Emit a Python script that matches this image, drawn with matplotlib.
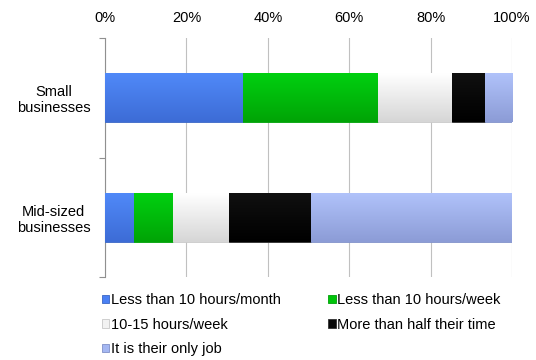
import numpy as np
import matplotlib.pyplot as plt
from matplotlib.patches import Patch
from matplotlib.colors import to_rgb

plt.rcParams['font.family'] = ['Liberation Sans', 'DejaVu Sans']

categories = ['Small\nbusinesses', 'Mid-sized\nbusinesses']
series = ['Less than 10 hours/month', 'Less than 10 hours/week',
          '10-15 hours/week', 'More than half their time', 'It is their only job']
small = [34, 33, 18.3, 8, 6.7]
mid = [7.1, 9.7, 13.7, 20.2, 49.3]
colors = ['#4a80f4', '#00c40a', '#f2f2f2', '#080808', '#a4b7f2']
tops = ['#5089f8', '#00d010', '#ffffff', '#101010', '#b0c2fa']
bottoms = ['#3d6cd6', '#00a406', '#d6d6d6', '#000000', '#8c9cd6']
edges = ['#3a66c4', '#00a008', '#c8c8c8', '#303030', '#8090c8']

values = np.array([small, mid])

fig = plt.figure(figsize=(5.36, 3.6), dpi=100)
ax = fig.add_axes([105/536, 1-277/360, 407/536, 239/360])

y = np.arange(len(categories))
left = np.zeros(len(categories))
for i, name in enumerate(series):
    bars = ax.barh(y, values[:, i], left=left, height=0.41, color=colors[i],
                   edgecolor=edges[i], linewidth=0.6, label=name, zorder=3)
    # vertical gradient like the original Excel fill
    grad = np.linspace(0, 1, 64)[:, None, None]
    img = (1 - grad) * np.array(to_rgb(tops[i])) + grad * np.array(to_rgb(bottoms[i]))
    for p in bars.patches:
        x0, y0, w, h = p.get_x(), p.get_y(), p.get_width(), p.get_height()
        im = ax.imshow(img, extent=(x0, x0 + w, y0 + h, y0), aspect='auto',
                       zorder=3.5, interpolation='bilinear')
        im.set_clip_path(p)
    left += values[:, i]

ax.set_xlim(0, 100)
ax.set_ylim(1.5, -0.5)
ax.set_aspect('auto')
ax.xaxis.tick_top()
ax.set_xticks(np.arange(0, 101, 20))
ax.set_xticklabels([f'{v}%' for v in range(0, 101, 20)], fontsize=10.5)
ax.tick_params(axis='x', length=0, pad=9)
ax.grid(axis='x', color='#c0c0c0', linewidth=0.8, zorder=0)

ax.set_yticks([-0.5, 0.5, 1.5])
ax.set_yticklabels([])
ax.set_yticks(y, minor=True)
ax.set_yticklabels(categories, minor=True, fontsize=10.5, ha='center', multialignment='center')
ax.tick_params(axis='y', which='major', length=4, color='#909090', direction='out')
ax.tick_params(axis='y', which='minor', length=0, pad=37)

for s in ['top', 'right', 'bottom']:
    ax.spines[s].set_visible(False)
ax.spines['left'].set_color('#909090')

order = [0, 2, 4, 1, 3]
handles = [Patch(facecolor=colors[k], edgecolor=edges[k], linewidth=0.6) for k in order]
fig.legend(handles, [series[k] for k in order], loc='upper left',
           bbox_to_anchor=(89/536, 1-280/360),
           ncol=2, frameon=False, fontsize=10.5, handlelength=0.5, handleheight=0.5,
           handletextpad=0.12, columnspacing=3.25, labelspacing=0.72)

fig.savefig('out.png', dpi=100)
